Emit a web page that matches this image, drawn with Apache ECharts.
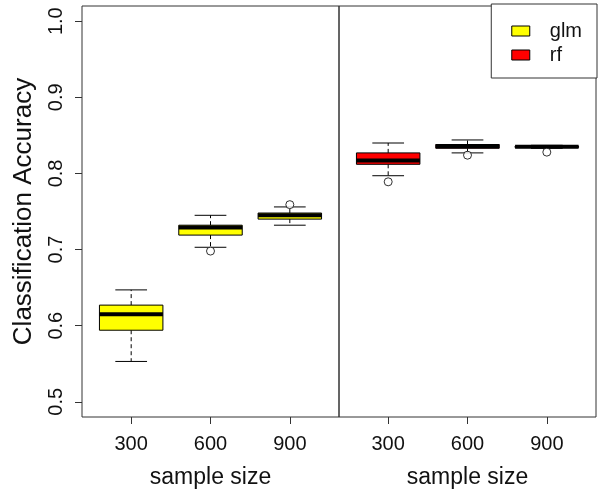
<!DOCTYPE html>
<html>
<head>
<meta charset="utf-8">
<script src="https://cdn.jsdelivr.net/npm/echarts@6/dist/echarts.min.js"></script>
<style>
html,body{margin:0;padding:0;background:#fff;}
#chart{width:604px;height:497px;}
</style>
</head>
<body>
<div id="chart"></div>
<script>
// ---- data ----
const sampleSizes = ['300', '600', '900'];
const methods = ['glm', 'rf'];
const methodColors = ['#FFFF00', '#FF0000'];
// [lower whisker, Q1, median, Q3, upper whisker]
const glmStats = [
  [0.553, 0.594, 0.615, 0.627, 0.647],
  [0.703, 0.719, 0.729, 0.732, 0.745],
  [0.732, 0.740, 0.745, 0.748, 0.756]
];
const glmOutliers = [[2, 0.698], [3, 0.759]];
const rfStats = [
  [0.797, 0.812, 0.817, 0.827, 0.840],
  [0.827, 0.833, 0.836, 0.838, 0.844],
  [0.833, 0.834, 0.835, 0.836, 0.837]
];
const rfOutliers = [[1, 0.789], [2, 0.824], [3, 0.828]];
const yTicks = [0.5, 0.6, 0.7, 0.8, 0.9, 1.0];
const xTicks = [1, 2, 3];

const FONT = 'Liberation Sans, Arial, sans-serif';
const chart = echarts.init(document.getElementById('chart'), null, {renderer: 'canvas'});

function boxRender(color) {
  return function (params, api) {
    const x = api.value(0);
    const lo = api.value(1), q1 = api.value(2), med = api.value(3), q3 = api.value(4), hi = api.value(5);
    const hw = 0.4, cw = 0.2;
    const c = (a, b) => api.coord([a, b]);
    const pTL = c(x - hw, q3), pBR = c(x + hw, q1);
    const pMidHi = c(x, hi), pMidQ3 = c(x, q3), pMidQ1 = c(x, q1), pMidLo = c(x, lo);
    const capHiL = c(x - cw, hi), capHiR = c(x + cw, hi);
    const capLoL = c(x - cw, lo), capLoR = c(x + cw, lo);
    const medL = c(x - hw, med), medR = c(x + hw, med);
    const dash = {stroke: '#000', lineWidth: 1, lineDash: [4, 3]};
    const solid = {stroke: '#000', lineWidth: 1};
    return {
      type: 'group',
      children: [
        {type: 'line', shape: {x1: pMidQ3[0], y1: pMidQ3[1], x2: pMidHi[0], y2: pMidHi[1]}, style: dash},
        {type: 'line', shape: {x1: pMidQ1[0], y1: pMidQ1[1], x2: pMidLo[0], y2: pMidLo[1]}, style: dash},
        {type: 'line', shape: {x1: capHiL[0], y1: capHiL[1], x2: capHiR[0], y2: capHiR[1]}, style: solid},
        {type: 'line', shape: {x1: capLoL[0], y1: capLoL[1], x2: capLoR[0], y2: capLoR[1]}, style: solid},
        {type: 'rect', shape: {x: pTL[0], y: pTL[1], width: pBR[0] - pTL[0], height: pBR[1] - pTL[1]},
          style: {fill: color, stroke: '#000', lineWidth: 1}},
        {type: 'line', shape: {x1: medL[0], y1: medL[1], x2: medR[0], y2: medR[1]}, style: {stroke: '#000', lineWidth: 4}}
      ]
    };
  };
}

function xAxisFor(idx) {
  return {
    type: 'value', gridIndex: idx, min: 0.38, max: 3.62,
    axisLine: {show: false},
    splitLine: {show: false},
    axisTick: {show: true, customValues: xTicks, inside: false, length: 7, lineStyle: {color: '#333'}},
    axisLabel: {show: true, customValues: xTicks, margin: 17, fontSize: 20, color: '#111', fontFamily: FONT,
      formatter: v => sampleSizes[Math.round(v) - 1]},
    name: 'sample size', nameLocation: 'middle', nameGap: 49,
    nameTextStyle: {fontSize: 23, color: '#111', fontFamily: FONT}
  };
}

const option = {
  backgroundColor: '#fff',
  animation: false,
  grid: [
    {left: 82, top: 6, width: 257, height: 411, show: true, borderColor: '#333', borderWidth: 1, backgroundColor: 'transparent'},
    {left: 339, top: 6, width: 257, height: 411, show: true, borderColor: '#333', borderWidth: 1, backgroundColor: 'transparent'}
  ],
  xAxis: [xAxisFor(0), xAxisFor(1)],
  yAxis: [
    {
      type: 'value', gridIndex: 0, min: 0.48, max: 1.02,
      axisLine: {show: false}, splitLine: {show: false},
      axisTick: {show: true, customValues: yTicks, length: 7, lineStyle: {color: '#333'}},
      axisLabel: {show: true, customValues: yTicks, rotate: 90, margin: 16, fontSize: 20, color: '#111', fontFamily: FONT,
        formatter: v => v.toFixed(1)},
      name: 'Classification Accuracy', nameLocation: 'middle', nameRotate: 90, nameGap: 45,
      nameTextStyle: {fontSize: 26, color: '#111', fontFamily: FONT}
    },
    {
      type: 'value', gridIndex: 1, min: 0.48, max: 1.02,
      axisLine: {show: false}, splitLine: {show: false}, axisTick: {show: false}, axisLabel: {show: false}
    }
  ],
  legend: {
    orient: 'vertical', right: 7, top: 4,
    data: methods.map((m, i) => ({name: m, icon: 'rect', itemStyle: {color: methodColors[i], borderColor: '#000', borderWidth: 1}})),
    itemWidth: 18, itemHeight: 10, itemGap: 2,
    padding: [16, 15, 12, 20],
    borderColor: '#333', borderWidth: 1, backgroundColor: '#fff',
    textStyle: {fontSize: 20, color: '#111', fontFamily: FONT, lineHeight: 22, padding: [0, 0, 0, 15]},
    selectedMode: false
  },
  series: [
    {
      name: 'glm', type: 'custom', xAxisIndex: 0, yAxisIndex: 0,
      itemStyle: {color: methodColors[0]},
      renderItem: boxRender(methodColors[0]),
      encode: {x: 0, y: [1, 2, 3, 4, 5]},
      data: glmStats.map((s, i) => [xTicks[i]].concat(s)),
      z: 2
    },
    {
      name: 'glm', type: 'scatter', xAxisIndex: 0, yAxisIndex: 0,
      symbol: 'circle', symbolSize: 8,
      itemStyle: {color: '#fff', borderColor: '#000', borderWidth: 1},
      data: glmOutliers, z: 3
    },
    {
      name: 'rf', type: 'custom', xAxisIndex: 1, yAxisIndex: 1,
      itemStyle: {color: methodColors[1]},
      renderItem: boxRender(methodColors[1]),
      encode: {x: 0, y: [1, 2, 3, 4, 5]},
      data: rfStats.map((s, i) => [xTicks[i]].concat(s)),
      z: 2
    },
    {
      name: 'rf', type: 'scatter', xAxisIndex: 1, yAxisIndex: 1,
      symbol: 'circle', symbolSize: 8,
      itemStyle: {color: '#fff', borderColor: '#000', borderWidth: 1},
      data: rfOutliers, z: 3
    }
  ]
};
chart.setOption(option);
</script>
</body>
</html>
